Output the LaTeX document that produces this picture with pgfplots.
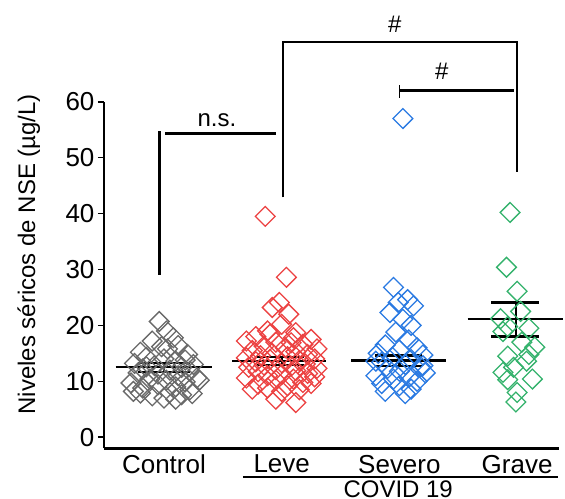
\documentclass[border=0pt]{standalone}
\usepackage{fontspec}
\setmainfont{Liberation Sans}
\usepackage{pgfplots}
\pgfplotsset{compat=1.18}

\definecolor{ctrlgray}{RGB}{105,105,105}
\definecolor{levered}{RGB}{236,66,66}
\definecolor{severoblue}{RGB}{42,122,226}
\definecolor{gravegreen}{RGB}{52,178,108}

\pgfplotsset{
  pts/.style={only marks, mark=square, mark size=7pt,
    mark options={rotate=45, line width=1.3pt, draw=#1, fill=none}},
  semline/.style={black, line width=2.3pt, mark=none},
}

\begin{document}
\begin{tikzpicture}
\begin{axis}[
  scale only axis, width=456pt, height=347pt,
  xmin=-0.51, xmax=3.36, ymin=-2, ymax=60,
  axis x line*=bottom, axis y line*=left,
  axis line style={line width=2.6pt},
  xtick={0,1,2,3}, xticklabels={Control,Leve,Severo,Grave},
  x tick style={draw=none},
  xticklabel style={yshift=3pt},
  ytick={0,10,...,60},
  y tick style={line width=1.5pt, black},
  tick align=outside, major tick length=6pt,
  tick label style={font=\fontsize{26}{30}\selectfont},
  /pgf/number format/assume math mode=true,
  ylabel={Niveles séricos de NSE (µg/L)},
  ylabel style={font=\fontsize{24}{28}\selectfont, at={(rel axis cs:-0.165,0.56)}, anchor=center},
  clip=false,
]
% Control
\addplot[pts=ctrlgray] coordinates {
(-0.04,20.7) (0.02,19.0) (0.08,17.8) (-0.10,17.2) (0.12,16.4) (-0.20,15.2)
(0.03,15.8) (0.20,14.8) (-0.15,14.3) (0.00,14.0) (0.10,13.6) (-0.25,13.2)
(0.25,13.0) (-0.08,12.8) (0.15,12.5) (-0.18,12.2) (0.05,12.0) (0.22,11.8)
(-0.22,11.5) (-0.05,11.3) (0.12,11.0) (0.28,10.6) (-0.12,10.4) (0.02,10.2)
(0.18,9.9) (-0.28,9.7) (0.30,10.2) (-0.05,9.4) (0.10,9.0) (-0.18,8.8)
(0.22,8.5) (-0.26,8.2) (0.05,8.0) (0.15,7.6) (-0.10,7.4) (0.24,7.8)
(-0.20,7.9) (0.00,7.0) (0.10,6.8) (-0.15,12.6) (0.18,13.8) (-0.02,16.2)
};
% Leve
\addplot[pts=levered] coordinates {
(0.86,39.5) (1.04,28.6) (0.98,24.1) (0.92,23.2) (1.06,22.0) (1.00,20.2)
(0.88,19.0) (1.12,18.7) (0.78,18.0) (1.10,17.8) (1.25,17.5) (0.70,17.2)
(0.95,17.0) (1.18,16.6) (0.85,16.3) (1.03,16.0) (1.30,15.8) (0.75,15.5)
(1.12,15.3) (0.92,15.0) (1.22,14.8) (0.82,14.6) (1.05,14.4) (0.70,14.2)
(1.28,14.0) (0.90,13.9) (1.15,13.7) (0.78,13.5) (1.00,13.3) (1.20,13.1)
(0.85,12.9) (1.08,12.7) (0.72,12.5) (1.30,12.3) (0.95,12.1) (1.12,11.9)
(0.80,11.7) (1.22,11.4) (1.00,11.2) (0.88,11.0) (1.28,10.8) (0.70,10.6)
(1.10,10.4) (0.95,10.2) (1.18,9.8) (0.80,9.5) (1.05,9.2) (0.88,8.8)
(1.15,8.5) (1.00,8.2) (0.75,8.6) (1.25,9.6) (0.95,6.8) (1.12,6.2)
(1.08,16.9) (0.90,18.4)
};
% Severo
\addplot[pts=severoblue] coordinates {
(2.03,57.0) (1.95,26.8) (2.07,24.6) (1.99,24.1) (2.12,23.5) (1.92,22.3)
(2.03,21.1) (2.10,20.0) (1.97,18.8) (2.08,17.4) (1.88,16.5) (2.15,16.0)
(2.00,15.6) (1.82,15.0) (2.20,14.7) (1.94,14.3) (2.10,13.9) (1.85,13.4)
(2.05,13.0) (2.18,12.6) (1.90,12.3) (2.00,11.8) (2.22,11.5) (1.80,11.0)
(2.08,10.7) (1.95,10.4) (2.15,10.0) (1.85,9.6) (2.00,9.2) (2.10,8.6)
(1.88,8.2) (2.05,7.8) (2.20,12.8) (1.80,13.6)
};
% Grave
\addplot[pts=gravegreen] coordinates {
(2.94,40.2) (2.91,30.4) (3.00,26.1) (3.03,22.5) (2.86,21.2) (2.92,19.8)
(3.10,19.5) (2.88,18.9) (3.04,17.0) (3.15,16.1) (2.92,14.5) (3.08,13.6)
(2.97,12.5) (2.88,11.6) (3.13,10.4) (2.92,10.3) (3.00,8.0) (2.99,6.3)
(3.10,14.8)
};
% media +/- EEM
\addplot[semline] coordinates {(-0.41,12.5) (0.41,12.5)};
\addplot[semline] coordinates {(-0.22,13.3) (0.22,13.3)};
\addplot[semline] coordinates {(-0.22,11.7) (0.22,11.7)};
\addplot[semline] coordinates {(0,11.7) (0,13.3)};
\addplot[semline] coordinates {(0.58,13.6) (1.38,13.6)};
\addplot[semline] coordinates {(0.79,14.3) (1.19,14.3)};
\addplot[semline] coordinates {(0.79,12.9) (1.19,12.9)};
\addplot[semline] coordinates {(1,12.9) (1,14.3)};
\addplot[semline] coordinates {(1.59,13.7) (2.40,13.7)};
\addplot[semline] coordinates {(1.79,14.6) (2.19,14.6)};
\addplot[semline] coordinates {(1.79,12.8) (2.19,12.8)};
\addplot[semline] coordinates {(2,12.8) (2,14.6)};
\addplot[semline] coordinates {(2.58,21.1) (3.39,21.1)};
\addplot[semline] coordinates {(2.78,24.1) (3.19,24.1)};
\addplot[semline] coordinates {(2.78,18.0) (3.19,18.0)};
\addplot[semline] coordinates {(2.99,18.0) (2.99,24.1)};
% brackets
\draw[line width=2.5pt] (axis cs:-0.04,29.1) -- (axis cs:-0.04,54.8);
\draw[line width=2.5pt] (axis cs:0.01,54.3) -- (axis cs:0.95,54.3);
\node[anchor=base, font=\fontsize{24}{28}\selectfont] at (axis cs:0.45,55.5) {n.s.};
\draw[line width=2.5pt] (axis cs:1.01,42.9) -- (axis cs:1.01,70.7) -- (axis cs:3.0,70.7) -- (axis cs:3.0,47.5);
\node[anchor=base, font=\fontsize{24}{28}\selectfont] at (axis cs:1.96,72.3) {\#};
\draw[line width=1pt] (axis cs:2.0,60.7) -- (axis cs:2.0,63.0);
\draw[line width=2.5pt] (axis cs:2.0,62.0) -- (axis cs:2.97,62.0);
\node[anchor=base, font=\fontsize{24}{28}\selectfont] at (axis cs:2.36,63.9) {\#};
% COVID 19
\draw[line width=2pt] (axis cs:0.67,-7.14) -- (axis cs:3.35,-7.14);
\node[anchor=base, font=\fontsize{24}{28}\selectfont] at (axis cs:1.99,-10.7) {COVID 19};
\coordinate (bbsw) at (axis cs:-1.393,-10.9);
\coordinate (bbne) at (axis cs:3.407,78.2);
\end{axis}
\pgfresetboundingbox
\path[use as bounding box] (bbsw) rectangle (bbne);
\end{tikzpicture}
\end{document}
